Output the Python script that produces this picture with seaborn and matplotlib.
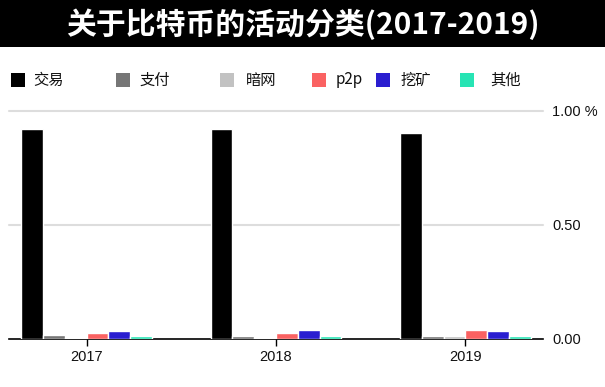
import matplotlib
matplotlib.use("Agg")
import matplotlib.pyplot as plt
import seaborn as sns
import pandas as pd
from matplotlib.patches import Rectangle

years = ["2017", "2018", "2019"]
categories = ["交易", "支付", "暗网", "p2p", "挖矿", "其他"]
trade = [0.917, 0.921, 0.900]
payment = [0.019, 0.013, 0.013]
darknet = [0.005, 0.005, 0.012]
p2p = [0.028, 0.028, 0.038]
mining = [0.033, 0.038, 0.033]
other = [0.011, 0.011, 0.013]
series = [trade, payment, darknet, p2p, mining, other]
colors = ["#000000", "#767676", "#c2c2c2", "#fa6262", "#2a1ed0", "#27e4b4"]
yticks = [0.0, 0.5, 1.0]
ytick_labels = ["0.00", "0.50", "1.00 %"]
title = "关于比特币的活动分类(2017-2019)"

rows = []
for cat, vals in zip(categories, series):
    for yr, v in zip(years, vals):
        rows.append({"year": yr, "category": cat, "value": v})
df = pd.DataFrame(rows)

sns.set_theme(style="white")
plt.rcParams["font.family"] = ["Liberation Sans", "Noto Sans CJK SC", "DejaVu Sans"]

W, H = 605, 387
fig = plt.figure(figsize=(W / 100, H / 100), dpi=100)
ymax = 1.05
ax_left, ax_right = 9, 543
y0 = 339
unit = 228.5
ax = fig.add_axes([ax_left / W, (H - y0) / H, (ax_right - ax_left) / W, unit * ymax / H])
ax.set_axisbelow(True)

sns.barplot(data=df, x="year", y="value", hue="category", hue_order=categories,
            palette=colors, width=0.69, saturation=1, legend=False, ax=ax, zorder=3)

ax.set_xlim(-0.41, 2.41)
ax.set_ylim(0, ymax)
ax.set_yticks(yticks)
ax.set_yticklabels(ytick_labels)
ax.yaxis.tick_right()
ax.tick_params(axis="y", length=0, pad=6.5, labelsize=10.5, colors="#111111")
ax.tick_params(axis="x", length=5, width=1, color="#000000", pad=3, labelsize=10.5,
               labelcolor="#111111", bottom=True)
ax.set_xlabel("")
ax.set_ylabel("")
for s in ["top", "left", "right"]:
    ax.spines[s].set_visible(False)
ax.spines["bottom"].set_color("#000000")
ax.spines["bottom"].set_linewidth(1.2)
ax.spines["bottom"].set_zorder(2)
for yv in yticks[1:]:
    ax.axhline(yv, color="#dddddd", linewidth=1.5, zorder=1, clip_on=False)

# Title band
fig.add_artist(Rectangle((0, (H - 47) / H), 1, 47 / H, transform=fig.transFigure,
                         facecolor="#000000", edgecolor="none", zorder=0))
fig.text(0.5, (H - 24) / H, title, color="white", fontsize=21.5, fontweight="bold",
         ha="center", va="center", family=["Noto Sans CJK SC", "DejaVu Sans"])

# Legend
sq_x = [11, 116, 220, 312, 376, 460]
lab_x = [33, 140, 246, 336, 400, 490]
ly = 80
sq = 14
for cat, col, sx, lx in zip(categories, colors, sq_x, lab_x):
    fig.add_artist(Rectangle((sx / W, (H - ly - sq / 2) / H), sq / W, sq / H,
                             transform=fig.transFigure, facecolor=col, edgecolor="none"))
    fig.text(lx / W, (H - ly) / H, cat, fontsize=11, ha="left", va="center",
             color="#111111", family=["Noto Sans CJK SC", "Liberation Sans"])

fig.savefig("out.png", dpi=100)
